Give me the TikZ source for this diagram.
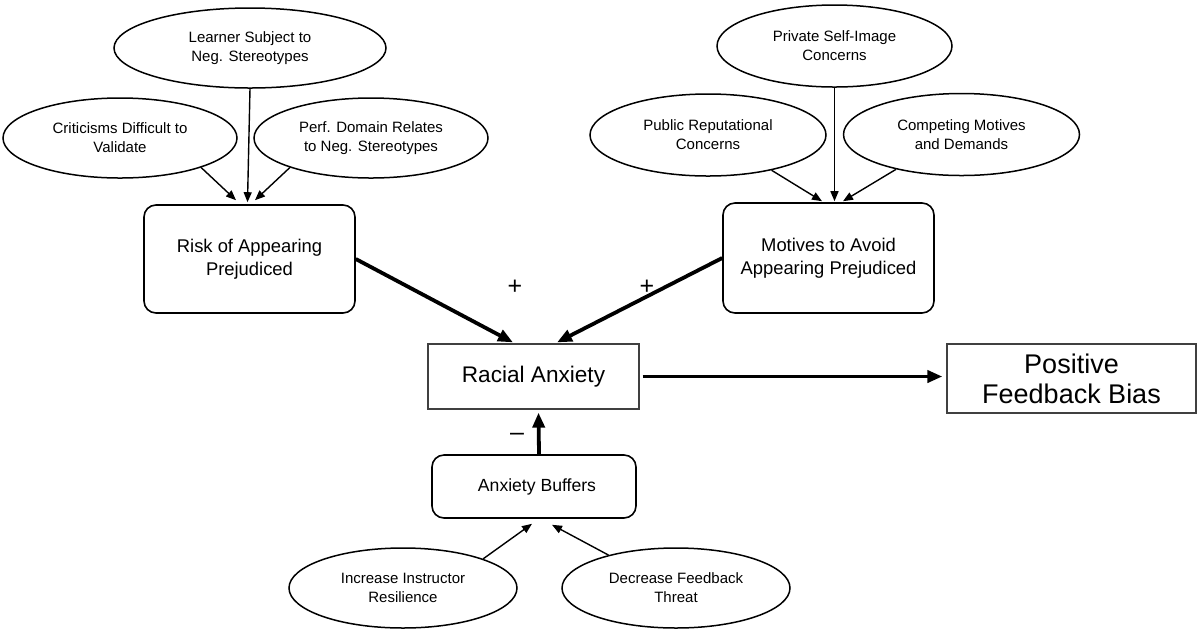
\documentclass[tikz,border=0pt]{standalone}
\usepackage{fontspec}
\setmainfont{Liberation Sans}
\usetikzlibrary{arrows.meta,shapes.geometric}
\begin{document}
\begin{tikzpicture}[x=0.5pt,y=-0.5pt,
  oval/.style={ellipse,draw,line width=0.75pt,inner sep=0pt,align=center,font=\fontsize{7.5}{9.5}\selectfont},
  rbox/.style={draw,rounded corners=6pt,line width=0.8pt,inner sep=0pt,align=center},
  sbox/.style={draw,color=black!75,text=black,line width=0.6pt,inner sep=0pt,align=center},
  thin/.style={line width=0.7pt,-{Triangle[length=5pt,width=4pt]}},
  thick/.style={line width=1.9pt,-{Triangle[length=7.5pt,width=6pt]}},
  sign/.style={inner sep=0pt,font=\fontsize{12.5}{14}\selectfont}]
\useasboundingbox (0,0) rectangle (1200,634);
% top-left cluster
\node[oval,minimum width=136pt,minimum height=40pt] (learner) at (250,48) {Learner Subject to\\Neg. Stereotypes};
\node[oval,minimum width=117pt,minimum height=40pt] (crit) at (120,138) {Criticisms Difficult to\\Validate};
\node[oval,minimum width=117pt,minimum height=40pt] (perf) at (371,138) {Perf. Domain Relates\\to Neg. Stereotypes};
\node[rbox,minimum width=105.5pt,minimum height=54pt,font=\fontsize{9.2}{11.5}\selectfont] (risk) at (249.5,259) {Risk of Appearing\\Prejudiced};
% top-right cluster
\node[oval,minimum width=117.5pt,minimum height=41pt] (private) at (834.5,46) {Private Self-Image\\Concerns};
\node[oval,minimum width=118pt,minimum height=41pt] (public) at (708,135) {Public Reputational\\Concerns};
\node[oval,minimum width=118pt,minimum height=41pt] (compet) at (961.5,134.5) {Competing Motives\\and Demands};
\node[rbox,minimum width=105.5pt,minimum height=55pt,font=\fontsize{9.2}{11.5}\selectfont] (motives) at (828.5,258) {Motives to Avoid\\Appearing Prejudiced};
% center
\node[sbox,minimum width=105.5pt,minimum height=32.5pt,font=\fontsize{11.3}{13.5}\selectfont] (racial) at (533.5,376.5) {Racial Anxiety};
\node[sbox,minimum width=124.5pt,minimum height=34.5pt,font=\fontsize{13.5}{15}\selectfont] (positive) at (1071.5,378.5) {Positive\\Feedback Bias};
\node[rbox,minimum width=102pt,minimum height=31.5pt,font=\fontsize{8.8}{11}\selectfont] (buffers) at (534,486.5) {\hspace*{3pt}Anxiety Buffers};
% bottom
\node[oval,minimum width=114pt,minimum height=40pt] (increase) at (403,588) {Increase Instructor\\Resilience};
\node[oval,minimum width=114pt,minimum height=40pt] (decrease) at (676,588) {Decrease Feedback\\Threat};
% signs
\node[sign] (plusA) at (515,287) {+};
\node[sign] (plusB) at (647,287) {+};
\node[sign] (minus) at (517,437) {\textendash};
% connectors
\draw[thin] (learner.south) -- ([xshift=-1pt,yshift=1pt]risk.north);
\draw[thin] (crit.-20) -- ([xshift=-6.75pt,yshift=2pt]risk.north);
\draw[thin] (perf.200) -- ([xshift=2.75pt,yshift=2pt]risk.north);
\draw[thin] (private.south) -- ([yshift=0.5pt]private.south |- motives.north);
\draw[thin] (public.-29) -- ([xshift=-3.25pt,yshift=0.5pt]motives.north);
\draw[thin] (compet.208) -- ([xshift=7.25pt,yshift=0.5pt]motives.north);
\draw[thick] (risk.east) -- ([xshift=-10.25pt,yshift=0.5pt]racial.north);
\draw[thick] (motives.west) -- ([xshift=11.75pt,yshift=0.5pt]racial.north);
\draw[thick] ([xshift=1.5pt]racial.east) -- ([xshift=-2pt]positive.west |- racial.east);
\draw[thick] ([xshift=2.5pt]buffers.north) -- ([xshift=2.5pt,yshift=-1.5pt]racial.south);
\draw[thin] (increase.20) -- ([xshift=-1pt,yshift=-2.5pt]buffers.south);
\draw[thin] (decrease.154) -- ([xshift=9pt,yshift=-3pt]buffers.south);
\end{tikzpicture}
\end{document}
